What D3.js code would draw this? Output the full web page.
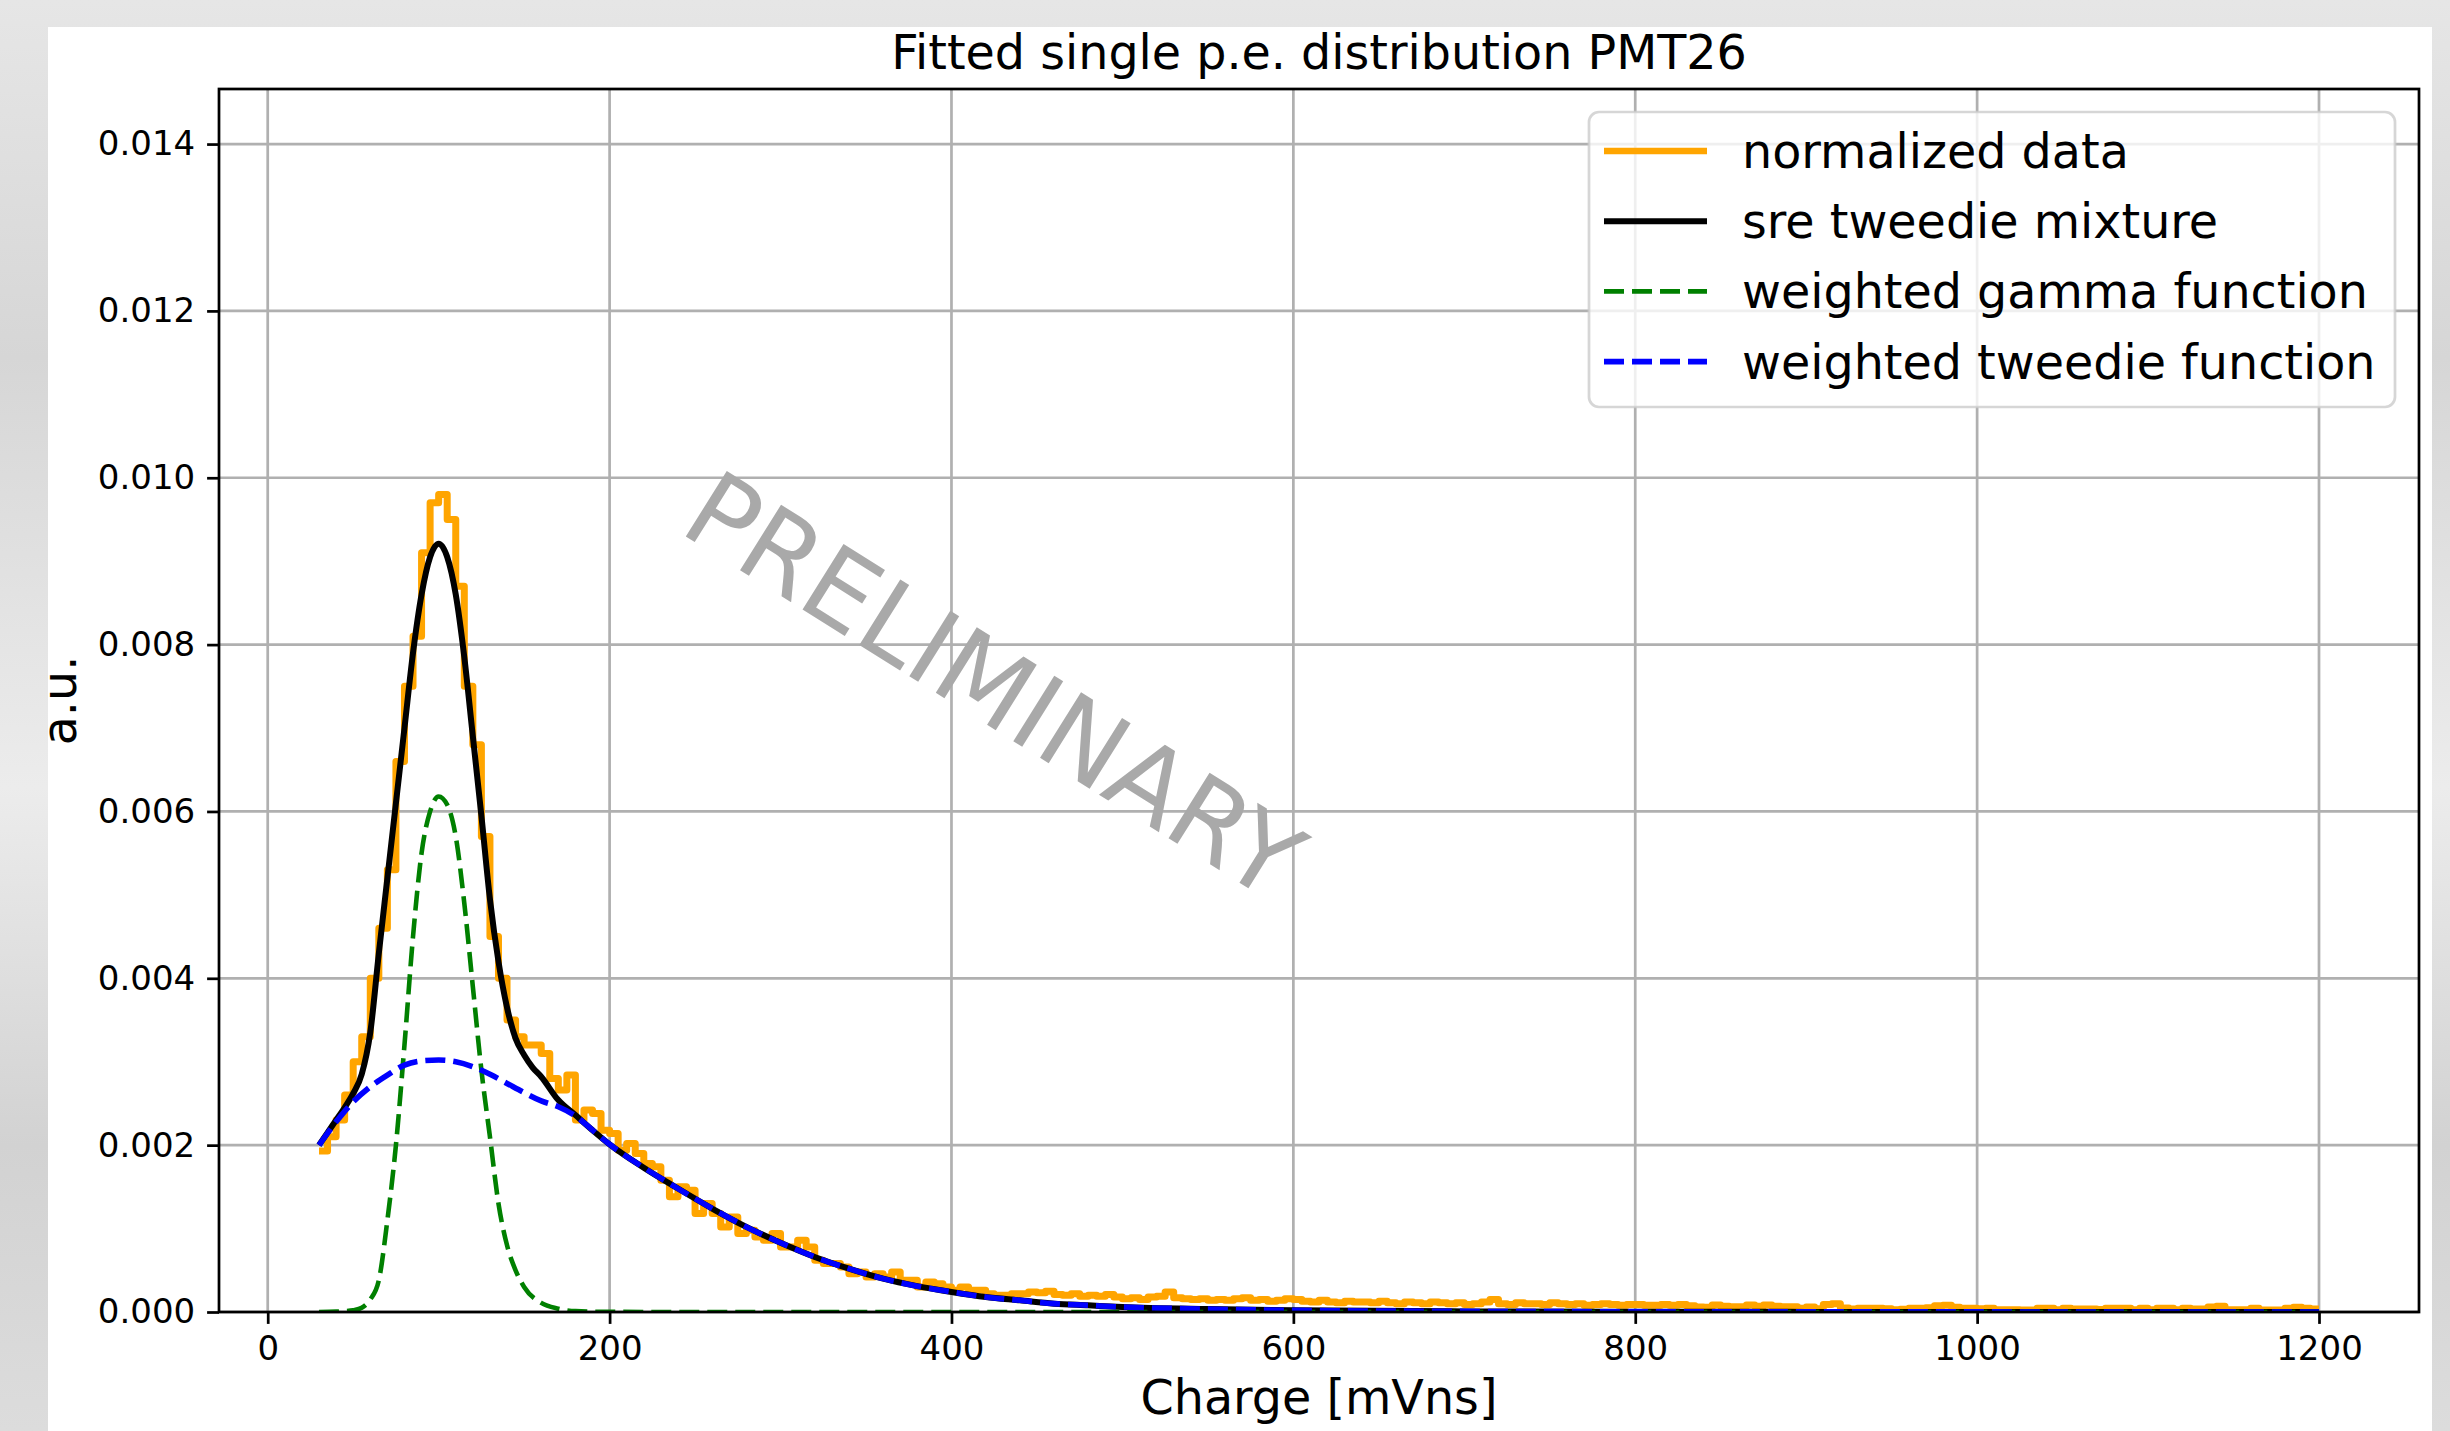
<!DOCTYPE html>
<html>
<head>
<meta charset="utf-8">
<script src="https://cdn.jsdelivr.net/npm/d3@7/dist/d3.min.js"></script>
<style>
  html, body { margin: 0; padding: 0; background: #e2e2e2; }
  svg { display: block; }
  text { font-family: "DejaVu Sans", sans-serif; }
</style>
</head>
<body>
<svg id="chart" width="2450" height="1431"></svg>
<script>
// ── Data ───────────────────────────────────────────────────────────────────

// histogram of the normalized data, bins of 5 mVns starting at 30
const binStart = 30;
const binWidth = 5;
const dataValues = [
  0.00193, 0.0021, 0.0023, 0.0026, 0.0030, 0.0033, 0.0040, 0.0046, 0.0053, 0.0066,
  0.0075, 0.0081, 0.0091, 0.0097, 0.0098, 0.0095, 0.0087, 0.0075, 0.0068, 0.0057,
  0.0045, 0.0040, 0.0035, 0.0033, 0.0032, 0.0032, 0.0031, 0.0028, 0.00266, 0.00284,
  0.00230, 0.00242, 0.00238, 0.00218, 0.00214, 0.00194, 0.00202, 0.00190, 0.00178, 0.00174,
  0.00158, 0.00138, 0.00150, 0.00146, 0.00118, 0.00130, 0.00118, 0.00102, 0.00114, 0.00094,
  0.00098, 0.00090, 0.00086, 0.00094, 0.00078, 0.00078, 0.00086, 0.00078, 0.00062, 0.00058,
  0.00058, 0.00054, 0.00046, 0.00048, 0.00042, 0.00046, 0.00042, 0.00048, 0.00038, 0.00038,
  0.00030, 0.00036, 0.00034, 0.00030, 0.00026, 0.00030, 0.00026, 0.00026, 0.00022, 0.00020,
  0.00020, 0.00022, 0.00022, 0.00024, 0.00023, 0.00025, 0.00021, 0.00020, 0.00022, 0.00019,
  0.00020, 0.00019, 0.00021, 0.00018, 0.00016, 0.00017, 0.00015, 0.00018, 0.00019, 0.00024,
  0.00017, 0.00016, 0.00015, 0.00016, 0.00014, 0.00015, 0.00014, 0.00016, 0.00017, 0.00014,
  0.00015, 0.00013, 0.00014, 0.00016, 0.00015, 0.00013, 0.00012, 0.00014, 0.00012, 0.00011,
  0.00013, 0.00012, 0.00012, 0.00011, 0.00013, 0.00011, 0.00010, 0.00012, 0.00011, 0.00010,
  0.00012, 0.00011, 0.00010, 0.00011, 0.00009, 0.00010, 0.00012, 0.00015, 0.00010, 0.00009,
  0.00011, 0.00010, 0.00010, 0.00009, 0.00011, 0.00010, 0.00009, 0.00010, 0.00008, 0.00009,
  0.00010, 0.00009, 0.00008, 0.00009, 0.00009, 0.00008, 0.00008, 0.00009, 0.00008, 0.00009,
  0.000076, 0.000060, 0.000056, 0.000084, 0.000070, 0.000064, 0.000064, 0.000084, 0.000070, 0.000084,
  0.000068, 0.000064, 0.000064, 0.000044, 0.000060, 0.000040, 0.000090, 0.000100, 0.000048, 0.000036,
  0.000044, 0.000044, 0.000044, 0.000040, 0.000028, 0.000032, 0.000044, 0.000044, 0.000050, 0.000076,
  0.000080, 0.000056, 0.000044, 0.000044, 0.000040, 0.000044, 0.000028, 0.000028, 0.000028, 0.000024,
  0.000024, 0.000044, 0.000044, 0.000028, 0.000044, 0.000036, 0.000036, 0.000036, 0.000030, 0.000044,
  0.000044, 0.000044, 0.000028, 0.000044, 0.000028, 0.000044, 0.000044, 0.000028, 0.000044, 0.000036,
  0.000036, 0.000060, 0.000068, 0.000028, 0.000028, 0.000028, 0.000044, 0.000024, 0.000024, 0.000024,
  0.000044, 0.000056, 0.000044, 0.000036
];
const dataEnd = 1200;

// sre tweedie mixture
const mixX = [30, 35, 40, 45, 50, 55, 60, 65, 70, 75, 80, 85, 90, 95, 100, 105, 110, 115, 120, 125,
  130, 135, 140, 145, 150, 155, 160, 170, 180, 190, 200, 220, 240, 260, 280, 300, 320, 340, 360, 380,
  400, 420, 440, 460, 480, 500, 550, 600, 700, 800, 900, 1000, 1100, 1200];
const mixY = [0.00200, 0.00215, 0.00230, 0.00245, 0.00262, 0.00285, 0.00335, 0.00430, 0.00520, 0.00610,
  0.00700, 0.00790, 0.00860, 0.00905, 0.00921, 0.00905, 0.00860, 0.00785, 0.00690, 0.00595,
  0.00495, 0.00420, 0.00365, 0.00328, 0.00308, 0.00293, 0.00282, 0.00254, 0.00236, 0.00218,
  0.00201, 0.00173, 0.00148, 0.00124, 0.00102, 0.00083, 0.00066, 0.00052, 0.00040, 0.00031,
  0.00024, 0.00018, 0.00014, 0.00010, 0.00008, 0.00006, 0.000035, 0.00002, 0.000007, 0.000003,
  0.0000015, 0.000001, 0.0000005, 0.0000002];

// weighted gamma function
const gammaX = [30, 40, 45, 50, 55, 60, 65, 70, 75, 80, 85, 90, 95, 100, 105, 110, 115, 120, 125, 130,
  135, 140, 145, 150, 160, 170, 180, 200, 250, 300, 1200];
const gammaY = [0, 0.000005, 0.00001, 0.00002, 0.00005, 0.00015, 0.00038, 0.0011, 0.0020, 0.0032,
  0.0045, 0.0055, 0.0060, 0.00618, 0.00608, 0.0057, 0.0049, 0.0039, 0.0029, 0.0021,
  0.0013, 0.0008, 0.0005, 0.0003, 0.00011, 0.00004, 0.00001, 0.000002, 0, 0, 0];

// weighted tweedie function
const tweedieX = [30, 40, 50, 60, 70, 80, 90, 100, 110, 120, 130, 140, 150, 160, 170, 180, 190, 200,
  220, 240, 260, 280, 300, 320, 340, 360, 380, 400, 420, 440, 460, 480, 500, 550, 600, 700, 800,
  900, 1000, 1100, 1200];
const tweedieY = [0.00200, 0.00228, 0.00252, 0.00270, 0.00284, 0.00296, 0.00301, 0.00302, 0.00300, 0.00294,
  0.00285, 0.00274, 0.00263, 0.00253, 0.00246, 0.00235, 0.00218, 0.00201,
  0.00173, 0.00148, 0.00124, 0.00102, 0.00083, 0.00066, 0.00052, 0.00040, 0.00031, 0.00024, 0.00018,
  0.00014, 0.00010, 0.00008, 0.00006, 0.000035, 0.00002, 0.000007, 0.000003,
  0.0000015, 0.000001, 0.0000005, 0.0000002];

const xTicks = [0, 200, 400, 600, 800, 1000, 1200];
const yTicks = [0, 0.002, 0.004, 0.006, 0.008, 0.010, 0.012, 0.014];

const legendLabels = ['normalized data', 'sre tweedie mixture', 'weighted gamma function', 'weighted tweedie function'];

// ── Layout ────────────────────────────────────────────────────────────────

const PT = 3.4;                       // px per point in the original figure
const box = { left: 219, right: 2419, top: 89, bottom: 1312 };

const svg = d3.select('#chart');

// photo background + white figure
const defs = svg.append('defs');
const bg = defs.append('linearGradient').attr('id', 'bg').attr('x1', 0).attr('y1', 0).attr('x2', 0).attr('y2', 1);
bg.append('stop').attr('offset', '0%').attr('stop-color', '#e6e6e6');
bg.append('stop').attr('offset', '25%').attr('stop-color', '#d6d6d6');
bg.append('stop').attr('offset', '55%').attr('stop-color', '#ececec');
bg.append('stop').attr('offset', '80%').attr('stop-color', '#d2d2d2');
bg.append('stop').attr('offset', '100%').attr('stop-color', '#dcdcdc');
svg.append('rect').attr('width', 2450).attr('height', 1431).attr('fill', 'url(#bg)');
svg.append('rect').attr('x', 48).attr('y', 27).attr('width', 2384).attr('height', 1404).attr('fill', '#fff');

const x = d3.scaleLinear().domain([-28.5, 1258.5]).range([box.left, box.right]);
const y = d3.scaleLinear().domain([0, 0.01466]).range([box.bottom, box.top]);

defs.append('clipPath').attr('id', 'plotclip')
  .append('rect')
  .attr('x', box.left).attr('y', box.top)
  .attr('width', box.right - box.left).attr('height', box.bottom - box.top);

// ── Grid ──
const grid = svg.append('g').attr('class', 'grid');
grid.selectAll('.gx').data(xTicks).join('line')
  .attr('x1', d => x(d)).attr('x2', d => x(d))
  .attr('y1', box.top).attr('y2', box.bottom);
grid.selectAll('.gy').data(yTicks).join('line')
  .attr('y1', d => y(d)).attr('y2', d => y(d))
  .attr('x1', box.left).attr('x2', box.right);
grid.selectAll('line').attr('stroke', '#b0b0b0').attr('stroke-width', 0.8 * PT);

// ── Watermark ──
svg.append('text')
  .attr('transform', 'translate(677,531) rotate(32)')
  .attr('font-size', 106)
  .attr('fill', '#a9a9a9')
  .text('PRELIMINARY');

// ── Series ──
const plot = svg.append('g').attr('clip-path', 'url(#plotclip)');
const dash = '20,8';

const steps = dataValues.map((v, i) => [binStart + i * binWidth, v]);
steps.push([dataEnd, dataValues[dataValues.length - 1]]);

const stepLine = d3.line().x(d => x(d[0])).y(d => y(d[1])).curve(d3.curveStepAfter);
const smooth = d3.line().x(d => x(d[0])).y(d => y(d[1])).curve(d3.curveMonotoneX);

plot.append('path')
  .attr('d', stepLine(steps))
  .attr('fill', 'none').attr('stroke', '#ffa500').attr('stroke-width', 7)
  .attr('stroke-linejoin', 'round');

const series = [
  { xs: mixX, ys: mixY, color: '#000000', dashed: false, lw: 6 },
  { xs: gammaX, ys: gammaY, color: '#008000', dashed: true, lw: 4.6 },
  { xs: tweedieX, ys: tweedieY, color: '#0000ff', dashed: true, lw: 5.6 },
];
for (const s of series) {
  plot.append('path')
    .attr('d', smooth(s.xs.map((v, i) => [v, s.ys[i]])))
    .attr('fill', 'none')
    .attr('stroke', s.color)
    .attr('stroke-width', s.lw)
    .attr('stroke-linejoin', 'round')
    .attr('stroke-dasharray', s.dashed ? dash : null);
}

// ── Axes ──
const xAxis = d3.axisBottom(x).tickValues(xTicks).tickSize(3.5 * PT).tickPadding(3.5 * PT).tickFormat(d3.format('d'));
const yAxis = d3.axisLeft(y).tickValues(yTicks).tickSize(3.5 * PT).tickPadding(3.5 * PT).tickFormat(d3.format('.3f'));

const gx = svg.append('g').attr('transform', `translate(0,${box.bottom})`).call(xAxis);
const gy = svg.append('g').attr('transform', `translate(${box.left},0)`).call(yAxis);
for (const g of [gx, gy]) {
  g.select('.domain').remove();
  g.selectAll('.tick line').attr('stroke', '#000').attr('stroke-width', 0.8 * PT);
  g.selectAll('.tick text').attr('fill', '#000').attr('font-size', 10 * PT)
    .attr('font-family', '"DejaVu Sans", sans-serif');
}

// spines
svg.append('rect')
  .attr('x', box.left).attr('y', box.top)
  .attr('width', box.right - box.left).attr('height', box.bottom - box.top)
  .attr('fill', 'none').attr('stroke', '#000').attr('stroke-width', 0.8 * PT);

// ── Labels ──
svg.append('text')
  .attr('x', (box.left + box.right) / 2).attr('y', 69)
  .attr('text-anchor', 'middle').attr('font-size', 14 * PT)
  .text('Fitted single p.e. distribution PMT26');

svg.append('text')
  .attr('x', (box.left + box.right) / 2).attr('y', 1414)
  .attr('text-anchor', 'middle').attr('font-size', 14 * PT)
  .text('Charge [mVns]');

svg.append('text')
  .attr('transform', `translate(76,${(box.top + box.bottom) / 2}) rotate(-90)`)
  .attr('text-anchor', 'middle').attr('font-size', 14 * PT)
  .text('a.u.');

// ── Legend ──
const lg = svg.append('g');
lg.append('rect')
  .attr('x', 1589).attr('y', 112).attr('width', 806).attr('height', 295)
  .attr('rx', 10).attr('ry', 10)
  .attr('fill', '#fff').attr('fill-opacity', 0.8)
  .attr('stroke', '#cccccc').attr('stroke-opacity', 0.8).attr('stroke-width', 0.8 * PT);

const handles = [{ color: '#ffa500', dashed: false, lw: 6.5 }, ...series];
legendLabels.forEach((label, i) => {
  const yy = 151 + i * 70.2;
  lg.append('line')
    .attr('x1', 1604).attr('x2', 1707).attr('y1', yy).attr('y2', yy)
    .attr('stroke', handles[i].color).attr('stroke-width', handles[i].lw)
    .attr('stroke-dasharray', handles[i].dashed ? dash : null);
  lg.append('text')
    .attr('x', 1742).attr('y', yy + 17)
    .attr('font-size', 14 * PT)
    .text(label);
});
</script>
</body>
</html>
